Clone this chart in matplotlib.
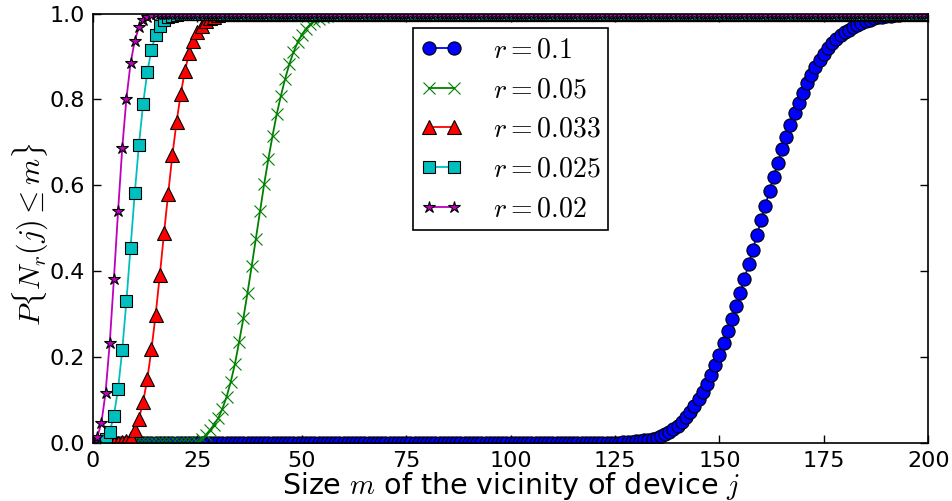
import numpy as np
import matplotlib
matplotlib.use("Agg")
import matplotlib.pyplot as plt

plt.rcParams['mathtext.fontset'] = 'cm'
plt.rcParams['font.family'] = ['DejaVu Sans']

# x categories: vicinity size m
m_values = np.arange(0, 201)

# r = 0.1  (zeros for m=0..124, readings for m=125..198, ones for 199..200)
p_r0100_low = [0.0] * 125
p_r0100_rise = [
    0.001, 0.001, 0.002, 0.002, 0.003, 0.004, 0.005, 0.006, 0.007, 0.009,
    0.012, 0.016, 0.021, 0.026, 0.033, 0.040, 0.050, 0.060, 0.073, 0.087,
    0.102, 0.118, 0.137, 0.158, 0.181, 0.205, 0.232, 0.260, 0.288, 0.319,
    0.350, 0.383, 0.416, 0.450, 0.485, 0.519, 0.553, 0.587, 0.620, 0.652,
    0.684, 0.712, 0.740, 0.768, 0.792, 0.815, 0.838, 0.858, 0.875, 0.892,
    0.906, 0.919, 0.931, 0.941, 0.950, 0.957, 0.963, 0.969, 0.974, 0.979,
    0.983, 0.986, 0.989, 0.991, 0.993, 0.994, 0.995, 0.996, 0.997, 0.998,
    0.998, 0.999, 0.999, 0.999]
p_r0100_high = [1.0] * 2

# r = 0.05 (zeros m=0..24, readings m=25..59, ones m=60..200)
p_r0050_low = [0.0] * 25
p_r0050_rise = [
    0.002, 0.009, 0.019, 0.030, 0.043, 0.058, 0.080, 0.108, 0.143, 0.185,
    0.236, 0.290, 0.350, 0.412, 0.476, 0.540, 0.604, 0.662, 0.716, 0.766,
    0.809, 0.848, 0.882, 0.910, 0.933, 0.951, 0.965, 0.975, 0.983, 0.988,
    0.992, 0.995, 0.997, 0.998, 0.999]
p_r0050_high = [1.0] * 141

# r = 0.033 (zeros m=0..5, readings m=6..32, ones m=33..200)
p_r0033_low = [0.0] * 6
p_r0033_rise = [
    0.001, 0.002, 0.005, 0.011, 0.030, 0.056, 0.096, 0.149, 0.218, 0.299,
    0.391, 0.488, 0.581, 0.670, 0.747, 0.813, 0.866, 0.908, 0.937, 0.958,
    0.972, 0.982, 0.989, 0.993, 0.996, 0.998, 0.999]
p_r0033_high = [1.0] * 168

# r = 0.025 (readings m=0..21, ones m=22..200)
p_r0025_rise = [
    0.000, 0.001, 0.003, 0.009, 0.026, 0.064, 0.126, 0.216, 0.331, 0.455,
    0.582, 0.695, 0.790, 0.864, 0.916, 0.950, 0.972, 0.984, 0.991, 0.995,
    0.997, 0.999]
p_r0025_high = [1.0] * 179

# r = 0.02 (readings m=0..16, ones m=17..200)
p_r0020_rise = [
    0.002, 0.013, 0.046, 0.117, 0.232, 0.381, 0.540, 0.687, 0.802, 0.885,
    0.937, 0.968, 0.984, 0.992, 0.996, 0.998, 0.999]
p_r0020_high = [1.0] * 184

p_r0100 = p_r0100_low + p_r0100_rise + p_r0100_high
p_r0050 = p_r0050_low + p_r0050_rise + p_r0050_high
p_r0033 = p_r0033_low + p_r0033_rise + p_r0033_high
p_r0025 = p_r0025_rise + p_r0025_high
p_r0020 = p_r0020_rise + p_r0020_high

labels = [r'$r=0.1$', r'$r=0.05$', r'$r=0.033$', r'$r=0.025$', r'$r=0.02$']
x_ticks = [0, 25, 50, 75, 100, 125, 150, 175, 200]
y_ticks = [0.0, 0.2, 0.4, 0.6, 0.8, 1.0]

fig = plt.figure(figsize=(9.52, 5.01), dpi=100)
ax = fig.add_axes([0.0977, 0.1158, 0.8773, 0.857])

styles = [
    dict(color=(0, 0, 1), marker='o', mfc=(0, 0, 1), mec='k', ms=9.5),
    dict(color=(0, 0.5, 0), marker='x', mfc=(0, 0.5, 0), mec=(0, 0.5, 0), ms=9),
    dict(color=(1, 0, 0), marker='^', mfc=(1, 0, 0), mec='k', ms=9.5),
    dict(color=(0, 0.75, 0.75), marker='s', mfc=(0, 0.75, 0.75), mec='k', ms=8.5),
    dict(color=(0.75, 0, 0.75), marker='*', mfc=(0.75, 0, 0.75), mec='k', ms=9),
]
series = [p_r0100, p_r0050, p_r0033, p_r0025, p_r0020]
for vals, lab, st in zip(series, labels, styles):
    ax.plot(m_values, vals, label=lab, lw=1.3, mew=0.8, **st)

ax.set_xlim(0, 200)
ax.set_ylim(0, 1)
ax.set_xticks(x_ticks)
ax.set_yticks(y_ticks)
ax.set_xticklabels([str(t) for t in x_ticks])
ax.set_yticklabels([f'{t:.1f}' for t in y_ticks])
ax.tick_params(direction='in', top=True, right=True, length=6, width=1,
               labelsize=16, pad=6)
for sp in ax.spines.values():
    sp.set_linewidth(1.2)

ax.set_xlabel(r'Size $m$ of the vicinity of device $j$', fontsize=20.5)
ax.xaxis.set_label_coords(0.5, -0.063)
ax.set_ylabel(r'$P\{N_r(j)\leq m\}$', fontsize=21.5)
ax.yaxis.set_label_coords(-0.05, 0.486)

leg = ax.legend(loc='upper center', bbox_to_anchor=(0.5, 0.967),
                borderaxespad=0, fontsize=20, numpoints=2, fancybox=False,
                framealpha=1, edgecolor='k', handlelength=1.5,
                handletextpad=1.1, labelspacing=0.42, borderpad=0.28)
leg.get_frame().set_linewidth(1.2)

fig.savefig('out.png', dpi=100)
